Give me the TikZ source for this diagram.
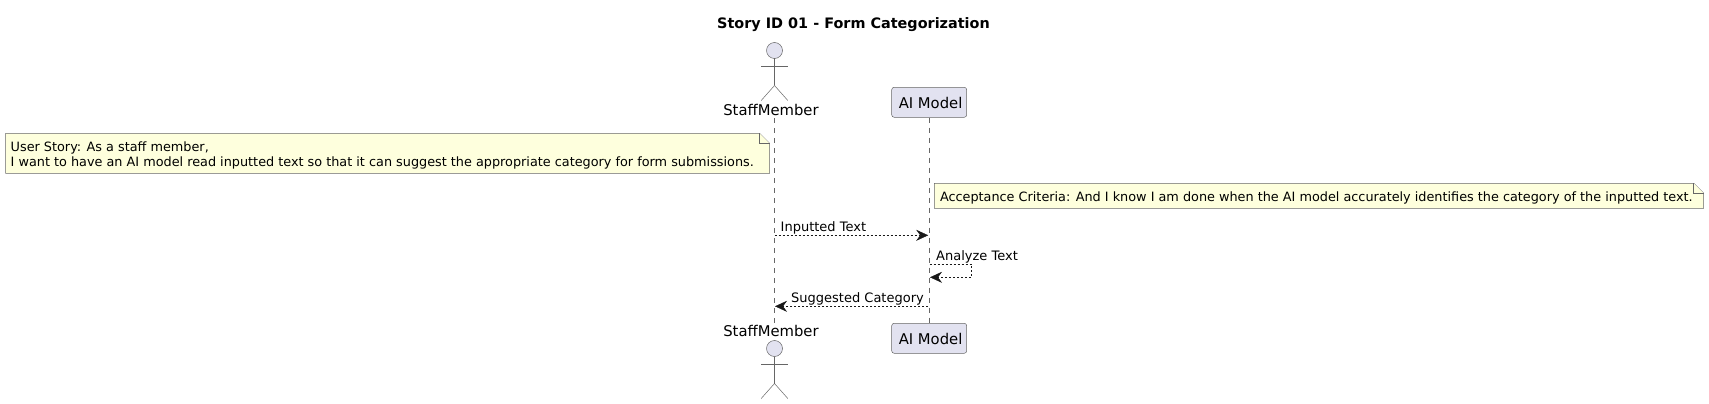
\documentclass[tikz,border=0pt]{standalone}
\usepackage{fontspec}
\setmainfont{DejaVu Sans}
\usetikzlibrary{arrows.meta}
\definecolor{partfill}{HTML}{E2E2F0}
\definecolor{notefill}{HTML}{FEFFDD}
\definecolor{ink}{HTML}{181818}
\definecolor{edgegrey}{HTML}{666666}
\tikzset{
  x=1pt,y=-1pt,
  msgtext/.style={inner sep=0pt,anchor=base west,text=black,font=\fontsize{13}{15}\selectfont},
  notetext/.style={inner sep=0pt,anchor=base west,text=black,font=\fontsize{12.82}{15}\selectfont},
  parttext/.style={inner sep=0pt,anchor=base,text=black,font=\fontsize{14.8}{16}\selectfont},
  partbox/.style={draw=edgegrey,fill=partfill,line width=0.5pt,rounded corners=2.5pt,minimum width=75pt,minimum height=30pt,inner sep=0pt},
  lifeline/.style={draw=edgegrey,line width=0.45pt,dash pattern=on 5pt off 5pt},
  msg/.style={draw=ink,line width=0.45pt,dash pattern=on 2pt off 2pt,-{Stealth[length=12pt,width=11pt,inset=4pt,fill=ink]}},
  actorline/.style={draw=edgegrey,line width=0.5pt},
  actorhead/.style={draw=edgegrey,fill=partfill,line width=0.5pt},
  notebody/.style={draw=edgegrey,fill=notefill,line width=0.5pt},
}
\newcommand{\stickman}[2]{%
  \draw[actorhead] (#1,#2) circle[radius=8];
  \draw[actorline] (#1,#2+8) -- (#1,#2+35);
  \draw[actorline] (#1-13.3,#2+15.5) -- (#1+13.3,#2+15.5);
  \draw[actorline] (#1-13.3,#2+50) -- (#1,#2+35) -- (#1+13.3,#2+50);
}
\newcommand{\notebox}[4]{%
  \draw[notebody] (#1,#2) -- (#1,#4) -- (#3,#4) -- (#3,#2+10) -- (#3-10,#2) -- cycle;
  \draw[notebody] (#3-10,#2) -- (#3-10,#2+10) -- (#3,#2+10);
}
\begin{document}
\begin{tikzpicture}
\useasboundingbox (0,0) rectangle (1709,404);
\node[inner sep=0pt,anchor=base,font=\fontsize{14.4}{16}\selectfont\bfseries] (title) at (853.5,28.6) {Story ID 01 - Form Categorization};

% lifelines
\coordinate (stafftop) at (774.5,118);
\coordinate (staffbot) at (774.5,323);
\node[partbox] (aitop) at (929.2,102.3) {};
\node[partbox] (aibot) at (929.2,338.3) {};
\node[parttext] (aitoptext) at (930.6,108) {AI Model};
\node[parttext] (aibottext) at (930.6,344) {AI Model};
\draw[lifeline] (aitop) -- (aibot);
\draw[lifeline] (stafftop) -- (staffbot);

% actors
\stickman{774.5}{50.5}
\node[parttext] (stafflabeltop) at (771,115.6) {StaffMember};
\node[parttext] (stafflabelbot) at (771,336.6) {StaffMember};
\stickman{774.5}{348.5}

% notes
\notebox{5.5}{133.3}{769.5}{173.3}
\node[notetext] (usline1) at (10.5,151.9) {User Story: As a staff member,};
\node[notetext] (usline2) at (10.5,166.9) {I want to have an AI model read inputted text so that it can suggest the appropriate category for form submissions.};
\notebox{934.3}{183.3}{1703.7}{208.3}
\node[notetext] (acline) at (939.8,201.9) {Acceptance Criteria: And I know I am done when the AI model accurately identifies the category of the inputted text.};

% messages
\coordinate (m1a) at (774.5,235.3);
\coordinate (m1b) at (928.2,235.3);
\draw[msg] (m1a) -- (m1b);
\node[msgtext] (m1t) at (780.5,231) {Inputted Text};

\coordinate (m2a) at (929.5,264.3);
\coordinate (m2c) at (971.7,264.3);
\coordinate (m2d) at (971.7,277.3);
\coordinate (m2b) at (930,277.3);
\draw[msg] (m2a) -- (m2c) -- (m2d) -- (m2b);
\node[msgtext] (m2t) at (936,260) {Analyze Text};

\coordinate (m3a) at (928.2,306.3);
\coordinate (m3b) at (775,306.3);
\draw[msg] (m3a) -- (m3b);
\node[msgtext] (m3t) at (791,302) {Suggested Category};
\end{tikzpicture}
\end{document}
